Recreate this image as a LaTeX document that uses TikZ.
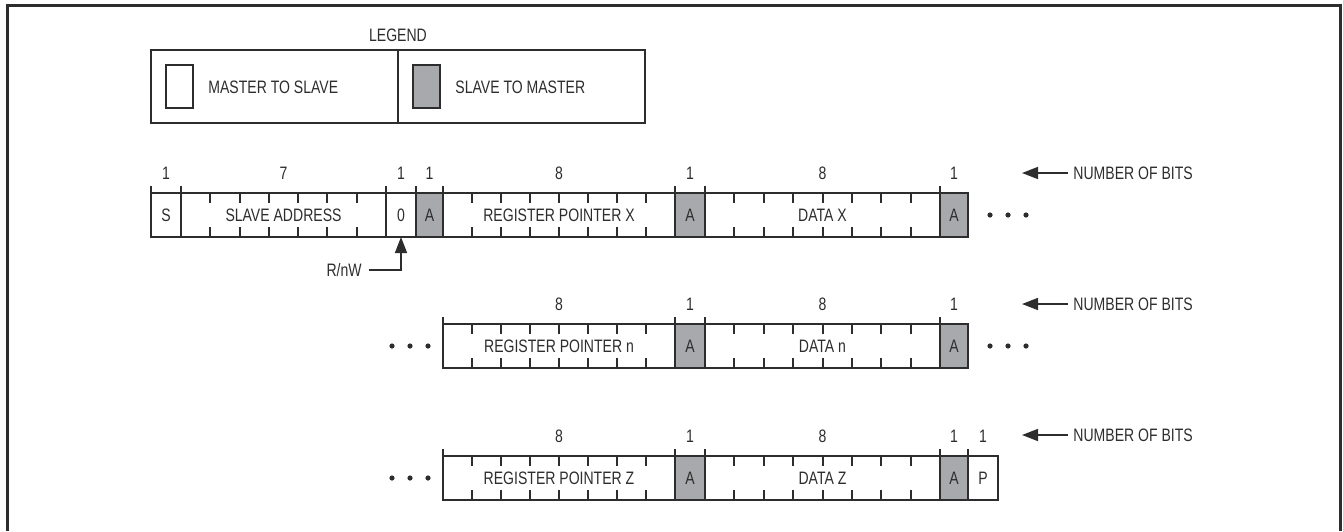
\documentclass[tikz,border=0pt]{standalone}
\usepackage{fontspec}
\setmainfont{Liberation Sans}[FakeStretch=0.78]
\usepackage{xcolor}
\usepackage{tikz}
\usetikzlibrary{arrows.meta,calc}
\definecolor{ackgray}{RGB}{167,169,172}
\definecolor{ink}{RGB}{45,45,45}
\tikzset{
  field/.style={draw=ink, line width=1pt, inner sep=0pt, outer sep=0pt, minimum height=22pt,
                font=\fontsize{9}{10}\selectfont, text=ink},
  mst/.style={field, fill=white},
  slv/.style={field, fill=ackgray},
  bits/.style={font=\fontsize{9}{10}\selectfont, text=ink, inner sep=0pt},
  tick/.style={draw=ink, line width=1pt},
  pointer/.style={-{Triangle[length=8pt,width=6pt]}, draw=ink, line width=0.8pt},
}
% one field of the frame: name, style, left, right, top, bit count, text
\newcommand{\bitfield}[7]{%
  \node[#2, minimum width={(#4-#3)*0.5pt}] (#1) at ({(#3+#4)/2},{#5+22}) {#7};
  \draw[tick] (#1.north west) -- ++(0,-7);
  \node[bits] (#1-n) at ($(#1.north)+(0,-20)$) {#6};
}
% bit ticks inside a field: name, bits, bits-1
\newcommand{\bitticks}[3]{%
  \foreach \k in {1,...,#3}{
    \draw[tick] ($(#1.north west)!\k/#2!(#1.north east)$) -- ++(0,10);
    \draw[tick] ($(#1.south west)!\k/#2!(#1.south east)$) -- ++(0,-10);
  }
}
\newcommand{\moredots}[2]{%
  \foreach \dx in {0,18,36}{\fill[ink] (#1+\dx,#2) circle (2.6);}
}

\begin{document}
\begin{tikzpicture}[x=0.5pt, y=-0.5pt]
  \useasboundingbox (0,0) rectangle (1343,531);
  \draw[ink, line width=1.5pt] (7,531) -- (7,5) -- (1340,5) -- (1340,531);

  % legend
  \node[bits] (legend) at (398,35) {LEGEND};
  \node[field, minimum width=123.5pt, minimum height=36.5pt] (legm) at (274.5,86.5) {};
  \node[field, minimum width=123.5pt, minimum height=36.5pt] (legs) at (521.5,86.5) {};
  \node[mst, minimum width=13.5pt, minimum height=21.5pt] (swm) at (179.5,86.5) {};
  \node[slv, minimum width=13.5pt, minimum height=21.5pt] (sws) at (426.5,86.5) {};
  \node[bits, anchor=west] (legm-t) at (208,87) {MASTER TO SLAVE};
  \node[bits, anchor=west] (legs-t) at (455,87) {SLAVE TO MASTER};

  % first frame
  \bitfield{st}{mst}{151}{181}{193}{1}{S}
  \bitfield{addr}{mst}{181}{386}{193}{7}{SLAVE ADDRESS}
  \bitfield{rw}{mst}{386}{416}{193}{1}{0}
  \bitfield{ack1}{slv}{416}{443}{193}{1}{A}
  \bitfield{regx}{mst}{443}{675}{193}{8}{REGISTER POINTER X}
  \bitfield{ack2}{slv}{675}{705}{193}{1}{A}
  \bitfield{datx}{mst}{705}{940}{193}{8}{DATA X}
  \bitfield{ack3}{slv}{940}{968}{193}{1}{A}
  \bitticks{addr}{7}{6}
  \bitticks{regx}{8}{7}
  \bitticks{datx}{8}{7}
  \moredots{990}{215}
  \node[bits, anchor=east] (rnw) at (362,270) {R/nW};
  \draw[pointer] ([xshift=3.5pt]rnw.east) -| (rw.south);

  % middle frame
  \bitfield{regn}{mst}{443}{675}{324}{8}{REGISTER POINTER n}
  \bitfield{ack4}{slv}{675}{705}{324}{1}{A}
  \bitfield{datn}{mst}{705}{940}{324}{8}{DATA n}
  \bitfield{ack5}{slv}{940}{968}{324}{1}{A}
  \bitticks{regn}{8}{7}
  \bitticks{datn}{8}{7}
  \moredots{392}{346}
  \moredots{990}{346}

  % last frame
  \bitfield{regz}{mst}{443}{675}{456}{8}{REGISTER POINTER Z}
  \bitfield{ack6}{slv}{675}{705}{456}{1}{A}
  \bitfield{datz}{mst}{705}{940}{456}{8}{DATA Z}
  \bitfield{ack7}{slv}{940}{968}{456}{1}{A}
  \bitfield{sp}{mst}{968}{998}{456}{1}{P}
  \bitticks{regz}{8}{7}
  \bitticks{datz}{8}{7}
  \moredots{392}{478}

  % bit count pointers
  \foreach \y/\i in {173/1, 304/2, 435/3}{
    \node[bits, anchor=west] (nob\i) at (1073,\y) {NUMBER OF BITS};
    \coordinate (nob\i-tip) at (1022,\y);
    \draw[pointer] ([xshift=-2.5pt]nob\i.west) -- (nob\i-tip);
  }
\end{tikzpicture}
\end{document}
